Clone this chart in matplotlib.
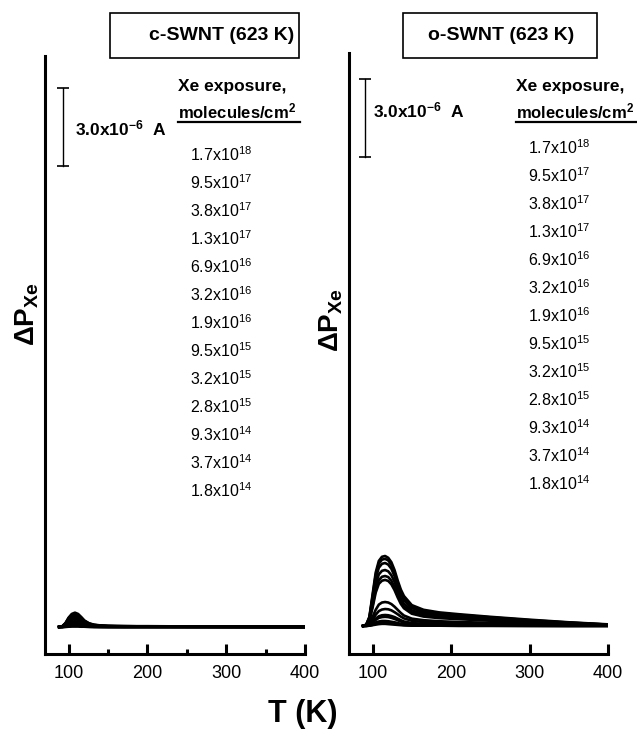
import matplotlib.pyplot as plt
from matplotlib.lines import Line2D
from matplotlib.patches import Rectangle
import numpy as np

plt.rcParams['font.family'] = ['Liberation Sans', 'DejaVu Sans']
plt.rcParams['mathtext.default'] = 'regular'

# Xe exposures (molecules/cm^2), largest first
exposures = ['1.7x10$^{18}$', '9.5x10$^{17}$', '3.8x10$^{17}$', '1.3x10$^{17}$',
             '6.9x10$^{16}$', '3.2x10$^{16}$', '1.9x10$^{16}$', '9.5x10$^{15}$',
             '3.2x10$^{15}$', '2.8x10$^{15}$', '9.3x10$^{14}$', '3.7x10$^{14}$',
             '1.8x10$^{14}$']

# c-SWNT desorption traces, units of 1e-6 A
T_c = [88, 92, 96, 100, 104, 108, 112, 116, 120, 126, 132, 140, 150, 170, 200, 250, 300, 350, 400]
c_swnt = [
    [0.00, 0.03, 0.15, 0.36, 0.50, 0.55, 0.50, 0.38, 0.25, 0.14, 0.09, 0.06, 0.04, 0.03, 0.03, 0.02, 0.02, 0.01, 0.01],
    [0.00, 0.03, 0.14, 0.34, 0.47, 0.52, 0.47, 0.36, 0.23, 0.13, 0.08, 0.05, 0.04, 0.03, 0.02, 0.02, 0.02, 0.01, 0.01],
    [0.00, 0.02, 0.13, 0.31, 0.44, 0.48, 0.43, 0.33, 0.21, 0.12, 0.07, 0.05, 0.03, 0.03, 0.02, 0.02, 0.01, 0.01, 0.01],
    [0.00, 0.02, 0.11, 0.27, 0.38, 0.42, 0.38, 0.29, 0.18, 0.10, 0.06, 0.04, 0.03, 0.02, 0.02, 0.01, 0.01, 0.01, 0.00],
    [0.00, 0.02, 0.10, 0.23, 0.33, 0.36, 0.32, 0.24, 0.15, 0.09, 0.05, 0.04, 0.03, 0.02, 0.02, 0.01, 0.01, 0.00, 0.00],
    [0.00, 0.01, 0.08, 0.19, 0.27, 0.30, 0.27, 0.20, 0.13, 0.07, 0.04, 0.03, 0.02, 0.02, 0.01, 0.01, 0.01, 0.00, 0.00],
    [0.00, 0.01, 0.06, 0.14, 0.20, 0.22, 0.20, 0.15, 0.09, 0.05, 0.03, 0.02, 0.02, 0.01, 0.01, 0.01, 0.00, 0.00, 0.00],
    [0.00, 0.01, 0.04, 0.10, 0.15, 0.16, 0.14, 0.11, 0.07, 0.04, 0.02, 0.02, 0.01, 0.01, 0.01, 0.00, 0.00, 0.00, 0.00],
    [0.00, 0.00, 0.03, 0.06, 0.09, 0.10, 0.09, 0.07, 0.04, 0.02, 0.01, 0.01, 0.01, 0.00, 0.00, 0.00, 0.00, 0.00, 0.00],
    [0.00, 0.00, 0.02, 0.05, 0.07, 0.08, 0.07, 0.05, 0.03, 0.02, 0.01, 0.01, 0.00, 0.00, 0.00, 0.00, 0.00, 0.00, 0.00],
    [0.00, 0.00, 0.01, 0.03, 0.05, 0.05, 0.05, 0.03, 0.02, 0.01, 0.01, 0.00, 0.00, 0.00, 0.00, 0.00, 0.00, 0.00, 0.00],
    [0.00, 0.00, 0.01, 0.02, 0.03, 0.03, 0.03, 0.02, 0.01, 0.01, 0.00, 0.00, 0.00, 0.00, 0.00, 0.00, 0.00, 0.00, 0.00],
    [0.00, 0.00, 0.00, 0.01, 0.02, 0.02, 0.02, 0.01, 0.01, 0.00, 0.00, 0.00, 0.00, 0.00, 0.00, 0.00, 0.00, 0.00, 0.00],
]

# o-SWNT desorption traces, units of 1e-6 A
T_o = [88, 92, 96, 100, 104, 108, 112, 116, 120, 124, 128, 132, 136, 140, 150, 165, 185, 210, 250, 300, 350, 400]
o_swnt = [
    [0.00, 0.05, 0.35, 1.20, 2.05, 2.50, 2.66, 2.69, 2.62, 2.45, 2.15, 1.75, 1.40, 1.15, 0.80, 0.62, 0.52, 0.45, 0.35, 0.24, 0.14, 0.06],
    [0.00, 0.05, 0.33, 1.12, 1.95, 2.40, 2.55, 2.58, 2.52, 2.35, 2.05, 1.66, 1.32, 1.08, 0.75, 0.58, 0.49, 0.42, 0.33, 0.22, 0.13, 0.05],
    [0.00, 0.04, 0.30, 1.04, 1.82, 2.24, 2.39, 2.42, 2.36, 2.20, 1.92, 1.55, 1.22, 1.00, 0.69, 0.53, 0.45, 0.38, 0.30, 0.20, 0.12, 0.05],
    [0.00, 0.04, 0.26, 0.90, 1.60, 1.98, 2.12, 2.15, 2.10, 1.95, 1.70, 1.36, 1.06, 0.86, 0.60, 0.46, 0.39, 0.33, 0.26, 0.18, 0.10, 0.04],
    [0.00, 0.03, 0.22, 0.78, 1.40, 1.76, 1.89, 1.92, 1.88, 1.74, 1.50, 1.20, 0.93, 0.75, 0.52, 0.40, 0.34, 0.29, 0.23, 0.16, 0.09, 0.04],
    [0.00, 0.03, 0.20, 0.70, 1.28, 1.62, 1.74, 1.77, 1.73, 1.60, 1.38, 1.10, 0.85, 0.68, 0.47, 0.36, 0.30, 0.26, 0.20, 0.14, 0.08, 0.03],
    [0.00, 0.02, 0.10, 0.34, 0.62, 0.82, 0.90, 0.92, 0.90, 0.84, 0.74, 0.62, 0.50, 0.40, 0.28, 0.22, 0.18, 0.15, 0.12, 0.08, 0.05, 0.02],
    [0.00, 0.01, 0.07, 0.23, 0.43, 0.57, 0.63, 0.65, 0.64, 0.60, 0.53, 0.45, 0.36, 0.29, 0.20, 0.15, 0.12, 0.10, 0.08, 0.05, 0.03, 0.01],
    [0.00, 0.01, 0.05, 0.15, 0.28, 0.37, 0.41, 0.42, 0.41, 0.38, 0.34, 0.28, 0.22, 0.17, 0.11, 0.08, 0.06, 0.05, 0.04, 0.03, 0.02, 0.01],
    [0.00, 0.01, 0.04, 0.12, 0.23, 0.31, 0.34, 0.35, 0.34, 0.31, 0.27, 0.22, 0.17, 0.13, 0.08, 0.06, 0.05, 0.04, 0.03, 0.02, 0.01, 0.01],
    [0.00, 0.00, 0.02, 0.07, 0.13, 0.17, 0.19, 0.19, 0.18, 0.16, 0.14, 0.11, 0.08, 0.06, 0.04, 0.03, 0.02, 0.02, 0.01, 0.01, 0.00, 0.00],
    [0.00, 0.00, 0.01, 0.04, 0.08, 0.11, 0.12, 0.12, 0.11, 0.10, 0.08, 0.06, 0.05, 0.04, 0.02, 0.02, 0.01, 0.01, 0.01, 0.00, 0.00, 0.00],
    [0.00, 0.00, 0.01, 0.03, 0.05, 0.07, 0.08, 0.08, 0.07, 0.06, 0.05, 0.04, 0.03, 0.02, 0.01, 0.01, 0.01, 0.00, 0.00, 0.00, 0.00, 0.00],
]

scale_bar = 3.0  # 3.0x10^-6 A

W, H = 637, 730
fig = plt.figure(figsize=(W / 100, H / 100), dpi=100)


def fx(x):
    return x / W


def fy(y):
    return 1 - y / H


def setup(ax, minor):
    ax.set_xlim(70, 400)
    for s in ['top', 'right']:
        ax.spines[s].set_visible(False)
    for s in ['left', 'bottom']:
        ax.spines[s].set_linewidth(2.2)
    ax.set_yticks([])
    ax.set_xticks([100, 200, 300, 400])
    if minor:
        ax.set_xticks([150, 250, 350], minor=True)
    ax.tick_params(axis='x', which='major', direction='in', length=7, width=2.2,
                   labelsize=13, pad=8)
    ax.tick_params(axis='x', which='minor', direction='in', length=3.5, width=2.2)


def bar(ax, t, y0):
    ax.plot([t, t], [y0, y0 + scale_bar], color='black', lw=1.0)
    ax.plot([t, t], [y0, y0 + scale_bar], ls='none', marker='_', ms=9,
            mew=1.2, color='black')


# left panel: c-SWNT
ax1 = fig.add_axes([fx(45), fy(654), fx(305) - fx(45), fy(56) - fy(654)])
setup(ax1, True)
ax1.set_ylim(-1.04, 21.96)
for v in c_swnt:
    ax1.plot(T_c, v, color='black', lw=1.9, solid_joinstyle='round')
bar(ax1, 93, 17.73)

# right panel: o-SWNT
ax2 = fig.add_axes([fx(349), fy(654), fx(608) - fx(349), fy(53) - fy(654)])
setup(ax2, False)
ax2.set_ylim(-1.08, 22.04)
for v in o_swnt:
    ax2.plot(T_o, v, color='black', lw=1.9, solid_joinstyle='round')
bar(ax2, 90.5, 18.03)

# titles in boxes
for (x0, x1, label, tx) in [(110, 299, 'c-SWNT (623 K)', 222), (403, 597, 'o-SWNT (623 K)', 501)]:
    fig.add_artist(Rectangle((fx(x0), fy(58)), fx(x1) - fx(x0), fy(13) - fy(58),
                             fill=False, lw=1.2, edgecolor='black', transform=fig.transFigure))
    fig.text(fx(tx), fy(36), label, ha='center', va='center', fontsize=14, fontweight='bold')

# scale bar labels
fig.text(fx(75), fy(128), '3.0x10$^{-6}$  A', ha='left', va='center', fontsize=12.5, fontweight='bold')
fig.text(fx(373), fy(110), '3.0x10$^{-6}$  A', ha='left', va='center', fontsize=12.5, fontweight='bold')

# exposure lists
for (x, y_head, y_first) in [(178, 87, 155), (516, 87, 148)]:
    fig.text(fx(x), fy(y_head), 'Xe exposure,', ha='left', va='center', fontsize=12.5, fontweight='bold')
    fig.text(fx(x), fy(y_head + 24), 'molecules/cm$^2$', ha='left', va='center', fontsize=12, fontweight='bold')
    fig.add_artist(Line2D([fx(x), fx(x + 122)], [fy(y_head + 35), fy(y_head + 35)],
                          color='black', lw=1.6, transform=fig.transFigure))
    for i, e in enumerate(exposures):
        fig.text(fx(x + 12), fy(y_first + 28 * i), e, ha='left', va='center', fontsize=11.5)

# axis labels
fig.text(fx(27), fy(314), '$\\Delta$P$_{Xe}$', rotation=90, ha='center', va='center',
         fontsize=20, fontweight='bold')
fig.text(fx(331), fy(320), '$\\Delta$P$_{Xe}$', rotation=90, ha='center', va='center',
         fontsize=20, fontweight='bold')
fig.text(fx(303), fy(714), 'T (K)', ha='center', va='center', fontsize=22, fontweight='bold')

fig.savefig('out.png', dpi=100)
